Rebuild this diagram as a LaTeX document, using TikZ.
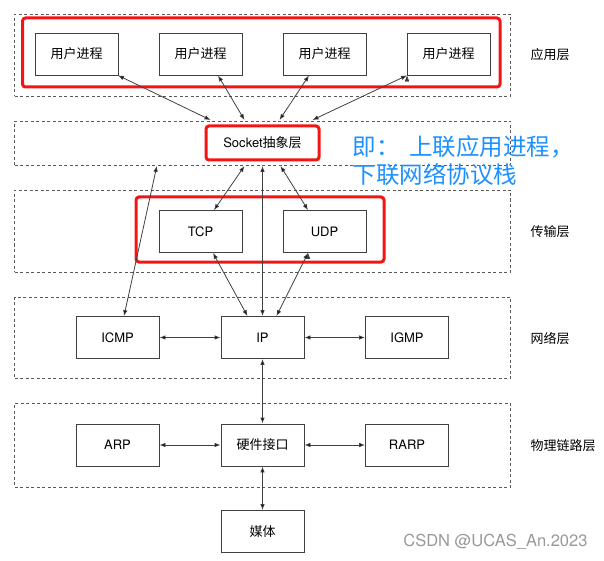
\documentclass[tikz,border=0pt]{standalone}
\usepackage{fontspec}
\usetikzlibrary{arrows.meta}
\setmainfont{TeX Gyre Heros}
\newfontfamily\cjk{Noto Sans CJK SC}
\definecolor{hlred}{RGB}{245,20,20}
\definecolor{noteblue}{RGB}{30,144,255}
\tikzset{
	box/.style={draw=black!75,line width=0.8pt,minimum width=83pt,minimum height=42pt,font=\fontsize{13}{15}\selectfont},
	layer/.style={draw=black!65,line width=0.8pt,dash pattern=on 3pt off 2.5pt,minimum width=496pt},
	hl/.style={draw=hlred,line width=3pt,rounded corners=3pt},
	lbl/.style={anchor=west,font=\fontsize{13}{15}\selectfont\cjk},
	arr/.style={{Latex[length=6pt,width=4.5pt]}-{Latex[length=6pt,width=4.5pt]},draw=black!75,line width=0.8pt}
}

\begin{document}
\begin{tikzpicture}[x=1pt,y=-1pt]
	\useasboundingbox (0,0) rectangle (604,561);
	
	\node[layer,minimum height=82pt] at (262.85,55)(appl){};
	\node[layer,minimum height=44.5pt] at (262.85,143.25)(sockl){};
	\node[layer,minimum height=82pt] at (262.85,231)(transl){};
	\node[layer,minimum height=81pt] at (262.85,337.5)(netl){};
	\node[layer,minimum height=84pt] at (262.85,445)(linkl){};
	
	\node[hl,minimum width=477.5pt,minimum height=69pt] at (261.25,52.5)(apphl){};
	\node[hl,minimum width=248pt,minimum height=65pt] at (260,229.5)(transhl){};
	
	\node[box] at (76.5,54)(u1){\cjk 用户进程};
	\node[box] at (200.5,54)(u2){\cjk 用户进程};
	\node[box] at (324.5,54)(u3){\cjk 用户进程};
	\node[box] at (448.5,54)(u4){\cjk 用户进程};
	\node[lbl] at (527,55)(l1){应用层};
	
	\node[hl,fill=white,minimum width=113pt,minimum height=34pt,outer sep=6pt,font=\fontsize{13}{15}\selectfont] at (262.5,143)(sock){Socket{\cjk 抽象层}};
	\node[anchor=west,text=noteblue,font=\fontsize{23.5}{28}\selectfont\cjk] at (349,147)(n1){即：\hspace{0.42em}上联应用进程，};
	\node[anchor=west,text=noteblue,font=\fontsize{23.5}{28}\selectfont\cjk] at (349,175)(n2){下联网络协议栈};
	
	\node[box] at (200.5,231.5)(tcp){TCP};
	\node[box] at (324.5,231.5)(udp){UDP};
	\node[lbl] at (527,232)(l2){传输层};
	
	\node[box] at (117.5,337.5)(icmp){ICMP};
	\node[box] at (262.5,337.5)(ip){IP};
	\node[box] at (407,337.5)(igmp){IGMP};
	\node[lbl] at (527,339)(l3){网络层};
	
	\node[box] at (117.5,445)(arp){ARP};
	\node[box] at (262.5,445)(hw){\cjk 硬件接口};
	\node[box] at (407,445)(rarp){RARP};
	\node[lbl] at (527,446)(l4){物理链路层};
	
	\node[box] at (262.5,531.5)(media){\cjk 媒体};
	
	\path[arr]([xshift=41.5pt]u1.south)edge([xshift=-52pt]sock.north)
		([xshift=17.5pt]u2.south)edge([xshift=-18pt]sock.north)
		([xshift=-15.5pt]u3.south)edge([xshift=17pt]sock.north)
		([xshift=-41.5pt]u4.south)edge([xshift=50pt]sock.north);
	\path[arr]([xshift=-106pt]sockl.south)edge([xshift=6.5pt]icmp.north)
		([xshift=-18pt]sock.south)edge([xshift=13.5pt]tcp.north)
		(sock.south)edge(ip.north)
		([xshift=18pt]sock.south)edge([xshift=-16.5pt]udp.north)
		([xshift=12.5pt]tcp.south)edge([xshift=-15pt]ip.north)
		([xshift=-16.5pt]udp.south)edge([xshift=14pt]ip.north);
	\path[arr](icmp)edge(ip)(ip)edge(igmp)(arp)edge(hw)(hw)edge(rarp)
		(ip)edge(hw)(hw)edge(media);
	
	\node[anchor=east,text=black!40,font=\fontsize{16.5}{19}\selectfont] at (591,542)(wm){CSDN @UCAS\_An.2023};
\end{tikzpicture}
\end{document}
